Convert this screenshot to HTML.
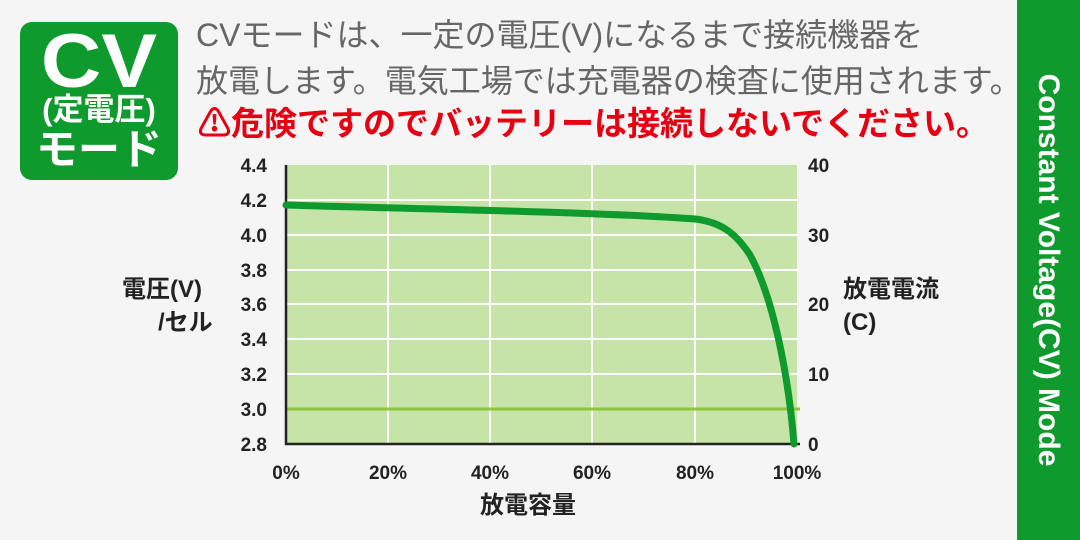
<!DOCTYPE html><html><head><meta charset="utf-8"><style>
body{margin:0;width:1080px;height:540px;background:#f5f5f5;position:relative;overflow:hidden;font-family:"Liberation Sans","Noto Sans CJK JP",sans-serif}
.a{position:absolute;white-space:nowrap}
</style></head><body>
<div class="a" style="left:20px;top:22px;width:158px;height:158px;background:#0e9a2c;border-radius:12px"></div>
<div class="a" style="left:20px;top:24px;width:158px;text-align:center;color:#fff;font-weight:bold;font-size:76px;line-height:76px;transform:scaleX(1.1)">CV</div>
<div class="a" style="left:20px;top:92px;width:158px;text-align:center;color:#fff;font-weight:bold;font-size:31px;line-height:36px">(定電圧)</div>
<div class="a" style="left:20px;top:126px;width:158px;text-align:center;color:#fff;font-weight:bold;font-size:42px;line-height:48px">モード</div>
<div class="a" style="left:196px;top:12px;color:#666;font-size:32px;line-height:46px">CVモードは、一定の電圧(V)になるまで接続機器を<br>放電します。電気工場では充電器の検査に使用されます。</div>
<div class="a" style="left:198px;top:102px;color:#e60012;font-weight:bold;font-size:33px;line-height:44px">⚠危険ですのでバッテリーは接続しないでください。</div>
<div class="a" style="left:1017px;top:0;width:63px;height:540px;background:#0e9a2c"></div>
<div class="a" style="left:1048px;top:270px;transform:translate(-50%,-50%) rotate(90deg);color:#fff;font-weight:bold;font-size:30px">Constant Voltage(CV) Mode</div>
<svg class="a" style="left:0;top:0" width="1017" height="540" font-family="Liberation Sans" font-weight="bold" font-size="19" fill="#222">
<rect x="286" y="165" width="511" height="279" fill="#c6e3a8"/>
<g stroke="#fff" stroke-width="2">
<line x1="388" y1="165" x2="388" y2="444"/><line x1="490" y1="165" x2="490" y2="444"/><line x1="592" y1="165" x2="592" y2="444"/><line x1="695" y1="165" x2="695" y2="444"/>
<line x1="286" y1="200" x2="797" y2="200"/><line x1="286" y1="235" x2="797" y2="235"/><line x1="286" y1="270" x2="797" y2="270"/><line x1="286" y1="304" x2="797" y2="304"/><line x1="286" y1="339" x2="797" y2="339"/><line x1="286" y1="374" x2="797" y2="374"/>
</g>
<line x1="286" y1="409" x2="800" y2="409" stroke="#8cc63f" stroke-width="3"/>
<path d="M286 165V444H800" fill="none" stroke="#222" stroke-width="2.5"/>
<path d="M286 205 C450 210 600 212 695 219 C720 222 735 232 750 255 C772 295 788 370 794 444" fill="none" stroke="#0e9a2c" stroke-width="7" stroke-linecap="round"/>
<g text-anchor="end"><text x="267" y="172">4.4</text><text x="267" y="207">4.2</text><text x="267" y="242">4.0</text><text x="267" y="277">3.8</text><text x="267" y="311">3.6</text><text x="267" y="346">3.4</text><text x="267" y="381">3.2</text><text x="267" y="416">3.0</text><text x="267" y="451">2.8</text></g>
<g><text x="808" y="172">40</text><text x="808" y="242">30</text><text x="808" y="311">20</text><text x="808" y="381">10</text><text x="808" y="451">0</text></g>
<g text-anchor="middle"><text x="286" y="479">0%</text><text x="388" y="479">20%</text><text x="490" y="479">40%</text><text x="592" y="479">60%</text><text x="695" y="479">80%</text><text x="797" y="479">100%</text></g>
<g font-family="Liberation Sans,Noto Sans CJK JP" font-size="24"><text x="528" y="513" text-anchor="middle">放電容量</text>
<text x="122" y="297">電圧(V)</text><text x="158" y="330">/セル</text>
<text x="843" y="297">放電電流</text><text x="843" y="330">(C)</text></g>
</svg>
</body></html>
